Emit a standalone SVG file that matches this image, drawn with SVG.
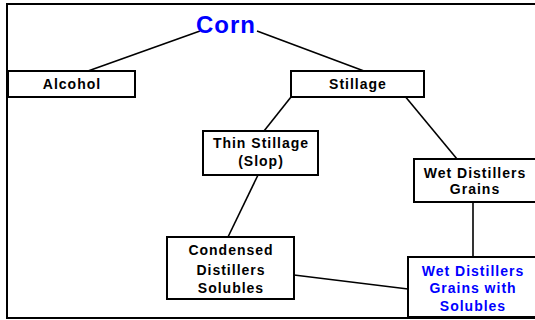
<svg xmlns="http://www.w3.org/2000/svg" width="535" height="320" viewBox="0 0 535 320">
<style>
.box{fill:#fff;stroke:#000;stroke-width:2}
.t{font-family:"Liberation Sans",Arial,sans-serif;font-weight:bold;font-size:14px;letter-spacing:1px;text-anchor:middle;fill:#000}
.b{fill:#0000ff}
.c{stroke:#000;stroke-width:1.6;fill:none}
</style>
<rect x="0" y="0" width="535" height="320" fill="#fff"/>
<rect x="7" y="4" width="540" height="314" fill="none" stroke="#000" stroke-width="2"/>
<g id="connectors">
<line class="c" x1="200" y1="31" x2="88" y2="71"/>
<line class="c" x1="257" y1="31" x2="364" y2="71"/>
<line class="c" x1="291" y1="97" x2="264" y2="131"/>
<line class="c" x1="404" y1="95" x2="457" y2="159"/>
<line class="c" x1="258" y1="175" x2="228" y2="237"/>
<line class="c" x1="473" y1="202" x2="473" y2="257"/>
<line class="c" x1="294" y1="275" x2="408" y2="289"/>
</g>
<g id="corn">
<text class="t b" x="226" y="33" style="font-size:24px;letter-spacing:1px">Corn</text>
</g>
<g id="alcohol">
<rect class="box" x="8" y="71" width="127" height="26"/>
<text class="t" x="72" y="89">Alcohol</text>
</g>
<g id="stillage">
<rect class="box" x="291" y="71" width="133" height="26"/>
<text class="t" x="358" y="89">Stillage</text>
</g>
<g id="thin-stillage">
<rect class="box" x="203" y="131" width="115" height="44"/>
<text class="t" x="261" y="148">Thin Stillage</text>
<text class="t" x="261" y="166">(Slop)</text>
</g>
<g id="wdg">
<rect class="box" x="414" y="159" width="125" height="43"/>
<text class="t" x="475" y="178">Wet Distillers</text>
<text class="t" x="475" y="194">Grains</text>
</g>
<g id="cds">
<rect class="box" x="167" y="237" width="127" height="62"/>
<text class="t" x="231" y="255">Condensed</text>
<text class="t" x="231" y="275">Distillers</text>
<text class="t" x="231" y="293">Solubles</text>
</g>
<g id="wdgs">
<rect class="box" x="408" y="257" width="131" height="60"/>
<text class="t b" x="473" y="276">Wet Distillers</text>
<text class="t b" x="473" y="293">Grains with</text>
<text class="t b" x="473" y="311">Solubles</text>
</g>
</svg>
